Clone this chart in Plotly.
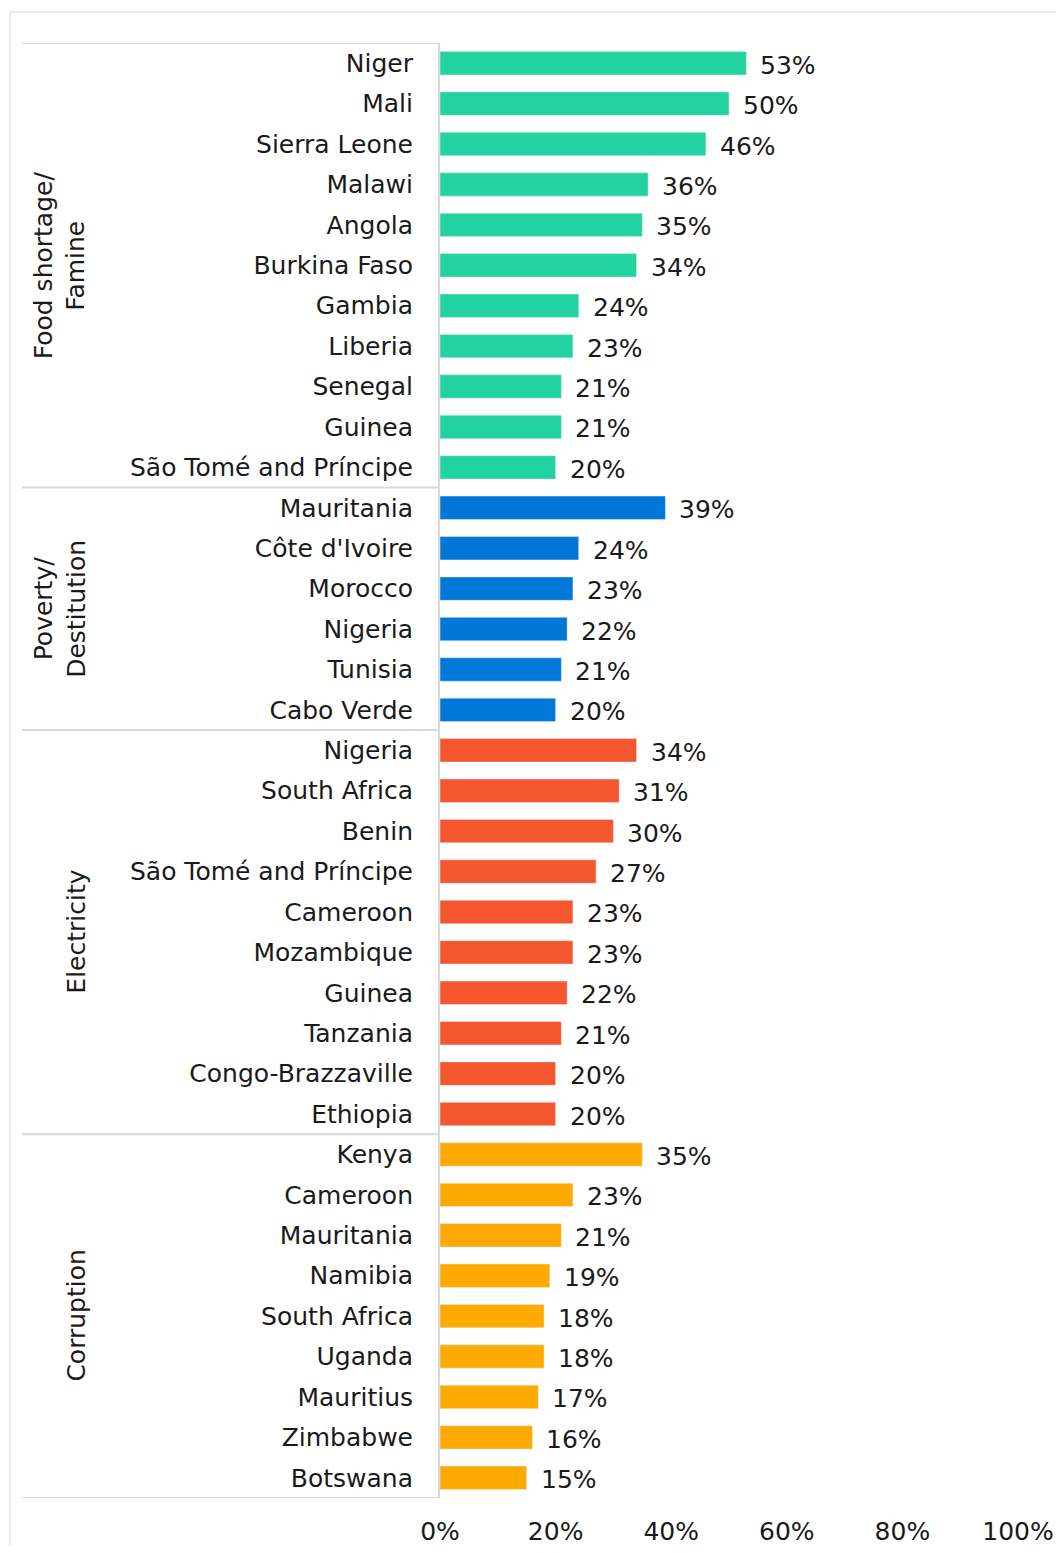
import plotly.graph_objects as go

groups = ["Food shortage/<br>Famine", "Poverty/<br>Destitution", "Electricity", "Corruption"]
group_colors = ["#22D2A0", "#0078D7", "#F4572D", "#FFAA00"]

food_countries = ["Niger", "Mali", "Sierra Leone", "Malawi", "Angola", "Burkina Faso", "Gambia",
                  "Liberia", "Senegal", "Guinea", "São Tomé and Príncipe"]
food_values = [53, 50, 46, 36, 35, 34, 24, 23, 21, 21, 20]

poverty_countries = ["Mauritania", "Côte d'Ivoire", "Morocco", "Nigeria", "Tunisia", "Cabo Verde"]
poverty_values = [39, 24, 23, 22, 21, 20]

electricity_countries = ["Nigeria", "South Africa", "Benin", "São Tomé and Príncipe", "Cameroon",
                         "Mozambique", "Guinea", "Tanzania", "Congo-Brazzaville", "Ethiopia"]
electricity_values = [34, 31, 30, 27, 23, 23, 22, 21, 20, 20]

corruption_countries = ["Kenya", "Cameroon", "Mauritania", "Namibia", "South Africa", "Uganda",
                        "Mauritius", "Zimbabwe", "Botswana"]
corruption_values = [35, 23, 21, 19, 18, 18, 17, 16, 15]

x_ticks = [0, 20, 40, 60, 80, 100]

all_countries = [food_countries, poverty_countries, electricity_countries, corruption_countries]
all_values = [food_values, poverty_values, electricity_values, corruption_values]

OFF = 8  # page body margin
W, H = 1048, 1537
ML, MR, MT, MB = 432, 38, 35, 47
PW = W - ML - MR
PH = H - MT - MB
FONT = "DejaVu Sans"
FS = 25
TXT = "#1a1a1a"
LINE = "#D9D9D9"

fig = go.Figure()
annotations = []
shapes = []
ticktext, tickvals = [], []
start = 0
n_total = sum(len(c) for c in all_countries)

def ypix_to_paper(py):
    return 1 - (py - OFF - MT) / PH

def xpix_to_paper(px):
    return (px - OFF - ML) / PW

for g, (countries, values, color, gname) in enumerate(zip(all_countries, all_values, group_colors, groups)):
    ys = list(range(start, start + len(countries)))
    fig.add_trace(go.Bar(
        x=values, y=ys, orientation="h", marker_color=color, width=0.58,
        showlegend=False, hoverinfo="skip"))
    for yv, v in zip(ys, values):
        annotations.append(dict(x=v, y=yv, xref="x", yref="y", text=f"{v}%", showarrow=False,
                                xanchor="left", xshift=12, yshift=-2,
                                font=dict(family=FONT, size=FS, color=TXT)))
    ticktext += countries
    tickvals += ys
    top = start - 0.5
    bot = start + len(countries) - 0.5
    for yb in ([top, bot] if g == 0 else [bot]):
        shapes.append(dict(type="line", xref="paper", yref="y", x0=xpix_to_paper(22), x1=0,
                           y0=yb, y1=yb, line=dict(color=LINE, width=2)))
    mid = (top + bot) / 2
    annotations.append(dict(x=xpix_to_paper(93), y=mid, xref="paper", yref="y", text=gname,
                            showarrow=False, textangle=-90, xanchor="right", yanchor="middle",
                            font=dict(family=FONT, size=FS, color=TXT)))
    start += len(countries)

# outer chart border
shapes.append(dict(type="rect", xref="paper", yref="paper",
                   x0=xpix_to_paper(10), x1=xpix_to_paper(1090),
                   y0=ypix_to_paper(1600), y1=ypix_to_paper(12),
                   line=dict(color="#E3E3E3", width=1.5), layer="below"))

fig.update_layout(
    width=W, height=H,
    margin=dict(l=ML, r=MR, t=MT, b=MB, autoexpand=False),
    paper_bgcolor="white", plot_bgcolor="white",
    font=dict(family=FONT, size=FS, color=TXT),
    annotations=annotations, shapes=shapes,
    bargap=0.42,
)
fig.update_xaxes(range=[0, 100], tickvals=x_ticks, ticktext=[f"{t}%" for t in x_ticks],
                 showgrid=False, zeroline=False, showline=False, ticks="", automargin=False,
                 ticklabelstandoff=16, tickfont=dict(family=FONT, size=FS, color=TXT))
fig.update_yaxes(range=[n_total - 0.5, -0.5], tickvals=tickvals, ticktext=ticktext,
                 showgrid=False, zeroline=False, showline=True, linecolor=LINE, linewidth=2,
                 ticks="", automargin=False,
                 ticklabelstandoff=20, tickfont=dict(family=FONT, size=FS, color=TXT))

fig.write_html("out.html")
